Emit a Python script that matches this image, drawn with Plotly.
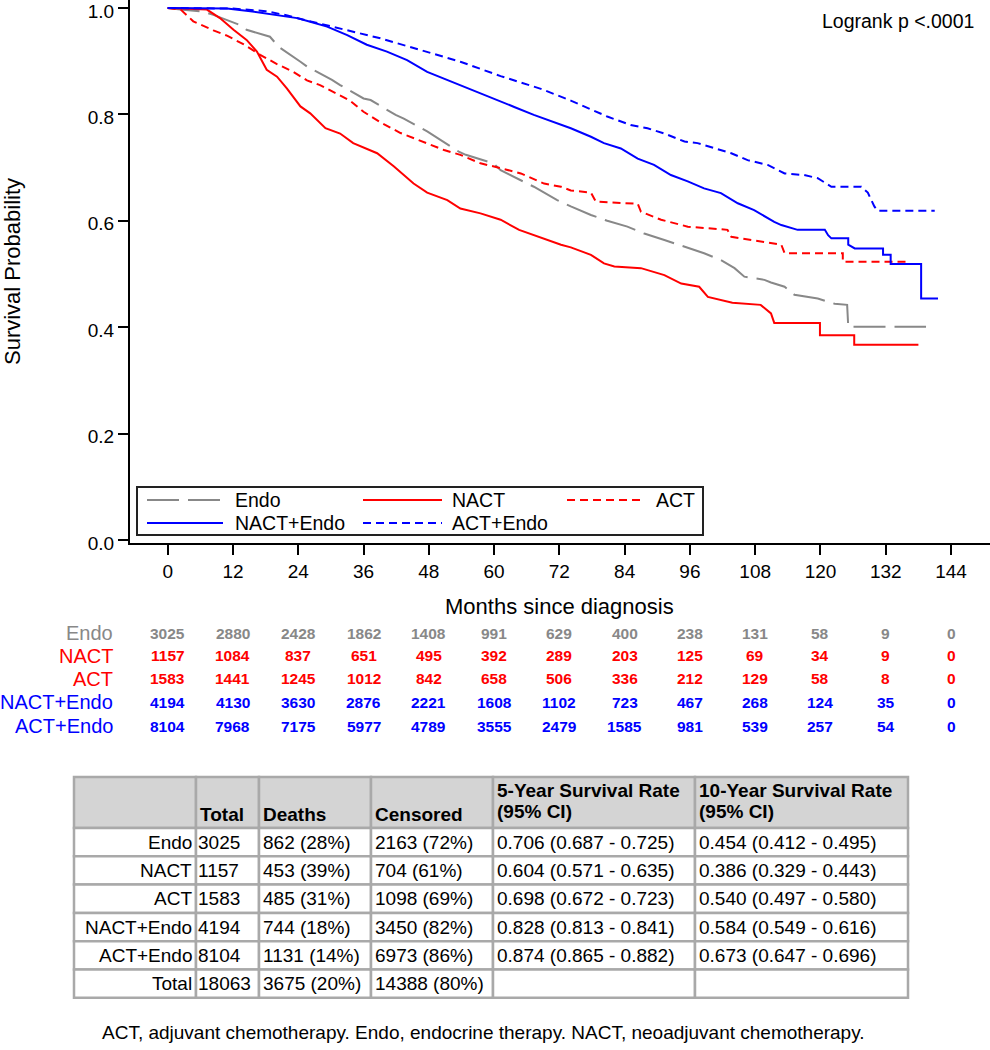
import plotly.graph_objects as go

FONT = "Liberation Sans, Arial, sans-serif"
W, H = 990, 1050

# ---------------- Kaplan-Meier curves (months, survival) ----------------
endo_t = [0, 2.3, 6.6, 8.4, 13.3, 14.5, 18.8, 20.4, 24.4, 25.6, 30.2, 31.7, 36.0, 37.3, 41.9, 43.4,
          47.7, 49.2, 53.5, 54.8, 59.9, 61.2, 65.5, 67.3, 71.6, 74.1, 77.8, 80.8, 84.5, 87.6, 91.3,
          95.0, 98.6, 101.7, 104.2, 106.0, 109.7, 110.9, 113.4, 115.2, 119.5, 122.6, 124.9, 125.1, 139.4]
endo_s = [1.0, 0.997, 0.993, 0.987, 0.968, 0.959, 0.946, 0.927, 0.899, 0.890, 0.865, 0.855, 0.830, 0.827,
          0.799, 0.792, 0.768, 0.758, 0.730, 0.724, 0.708, 0.695, 0.674, 0.664, 0.639, 0.627, 0.611,
          0.600, 0.589, 0.576, 0.564, 0.551, 0.539, 0.526, 0.511, 0.495, 0.489, 0.484, 0.476, 0.461,
          0.454, 0.444, 0.442, 0.401, 0.401]

nact_t = [0, 7.2, 9.6, 12.1, 14.5, 16.4, 18.2, 20.1, 21.9, 24.4, 26.2, 29.0, 31.7, 34.1, 38.5, 41.6,
          45.2, 47.7, 51.4, 53.8, 57.5, 61.2, 64.6, 68.0, 72.3, 74.1, 77.8, 80.2, 82.1, 87.0, 88.8,
          91.3, 94.4, 97.7, 99.3, 101.7, 103.8, 109.0, 110.9, 111.5, 119.9, 119.9, 126.2, 126.2, 138.0]
nact_s = [1.0, 0.997, 0.981, 0.959, 0.940, 0.918, 0.884, 0.871, 0.849, 0.815, 0.802, 0.774, 0.764,
          0.746, 0.727, 0.702, 0.670, 0.653, 0.639, 0.623, 0.614, 0.602, 0.583, 0.570, 0.555, 0.550,
          0.536, 0.520, 0.514, 0.511, 0.505, 0.498, 0.482, 0.476, 0.457, 0.451, 0.446, 0.442, 0.426,
          0.408, 0.408, 0.385, 0.385, 0.367, 0.367]

act_t = [0, 2.4, 4.7, 6.5, 8.4, 10.9, 13.9, 17.0, 20.0, 23.1, 25.6, 28.0, 30.5, 33.5, 36.0, 39.1,
         42.8, 47.7, 50.8, 53.8, 57.5, 61.2, 64.9, 69.2, 72.3, 74.1, 77.8, 78.7, 86.4, 87.0, 90.7,
         95.6, 102.9, 103.6, 112.8, 113.4, 124.1, 124.1, 135.8]
act_s = [1.0, 0.997, 0.975, 0.966, 0.958, 0.948, 0.932, 0.912, 0.895, 0.880, 0.864, 0.855, 0.842,
         0.826, 0.805, 0.785, 0.765, 0.746, 0.733, 0.724, 0.708, 0.699, 0.689, 0.670, 0.664, 0.657,
         0.653, 0.636, 0.632, 0.617, 0.602, 0.589, 0.583, 0.570, 0.555, 0.539, 0.539, 0.523, 0.523]

nacte_t = [0, 10.9, 15.2, 20.1, 23.8, 26.2, 29.3, 33.0, 36.6, 40.3, 44.0, 47.7, 51.4, 55.1, 60.0,
           63.7, 67.3, 71.0, 74.1, 77.8, 80.2, 83.3, 86.4, 89.4, 92.5, 95.6, 98.6, 101.7, 104.8,
           107.8, 111.5, 112.8, 115.8, 120.8, 121.4, 122.0, 125.1, 125.1, 126.3, 131.5, 131.5,
           132.9, 132.9, 138.5, 138.5, 141.6]
nacte_s = [1.0, 0.999, 0.994, 0.987, 0.981, 0.974, 0.965, 0.949, 0.931, 0.918, 0.902, 0.880, 0.865,
           0.850, 0.830, 0.814, 0.799, 0.786, 0.774, 0.758, 0.746, 0.736, 0.717, 0.705, 0.686, 0.674,
           0.661, 0.652, 0.633, 0.620, 0.598, 0.592, 0.583, 0.583, 0.573, 0.567, 0.567, 0.555, 0.548,
           0.548, 0.536, 0.536, 0.519, 0.519, 0.454, 0.454]

acte_t = [0, 12.0, 18.0, 22.0, 25.0, 31.7, 39.1, 46.5, 53.8, 61.2, 68.6, 74.1, 77.8, 80.8, 85.1,
          88.2, 91.3, 95.0, 97.4, 100.5, 103.6, 106.6, 110.3, 113.4, 117.0, 119.5, 122.0, 127.5,
          128.7, 129.9, 130.5, 141.0]
acte_s = [1.0, 0.999, 0.994, 0.986, 0.978, 0.962, 0.943, 0.921, 0.899, 0.872, 0.848, 0.826, 0.810,
          0.796, 0.780, 0.774, 0.764, 0.749, 0.746, 0.736, 0.727, 0.714, 0.705, 0.689, 0.686, 0.680,
          0.664, 0.664, 0.653, 0.627, 0.619, 0.619]

group_names = ["Endo", "NACT", "ACT", "NACT+Endo", "ACT+Endo"]

# ---------------- Number at risk ----------------
risk_times = [0, 12, 24, 36, 48, 60, 72, 84, 96, 108, 120, 132, 144]
risk_endo = [3025, 2880, 2428, 1862, 1408, 991, 629, 400, 238, 131, 58, 9, 0]
risk_nact = [1157, 1084, 837, 651, 495, 392, 289, 203, 125, 69, 34, 9, 0]
risk_act = [1583, 1441, 1245, 1012, 842, 658, 506, 336, 212, 129, 58, 8, 0]
risk_nacte = [4194, 4130, 3630, 2876, 2221, 1608, 1102, 723, 467, 268, 124, 35, 0]
risk_acte = [8104, 7968, 7175, 5977, 4789, 3555, 2479, 1585, 981, 539, 257, 54, 0]

# ---------------- Summary table ----------------
tbl_header = ["", "Total", "Deaths", "Censored", "5-Year Survival Rate", "10-Year Survival Rate"]
tbl_header_sub = ["", "", "", "", "(95% CI)", "(95% CI)"]
tbl_group = ["Endo", "NACT", "ACT", "NACT+Endo", "ACT+Endo", "Total"]
tbl_total = ["3025", "1157", "1583", "4194", "8104", "18063"]
tbl_deaths = ["862 (28%)", "453 (39%)", "485 (31%)", "744 (18%)", "1131 (14%)", "3675 (20%)"]
tbl_censored = ["2163 (72%)", "704 (61%)", "1098 (69%)", "3450 (82%)", "6973 (86%)", "14388 (80%)"]
tbl_5yr = ["0.706 (0.687 - 0.725)", "0.604 (0.571 - 0.635)", "0.698 (0.672 - 0.723)",
           "0.828 (0.813 - 0.841)", "0.874 (0.865 - 0.882)", ""]
tbl_10yr = ["0.454 (0.412 - 0.495)", "0.386 (0.329 - 0.443)", "0.540 (0.497 - 0.580)",
            "0.584 (0.549 - 0.616)", "0.673 (0.647 - 0.696)", ""]

footnote = "ACT, adjuvant chemotherapy. Endo, endocrine therapy. NACT, neoadjuvant chemotherapy."

# ---------------- styles / layout geometry (pixels) ----------------
GRAY, RED, BLUE = "#888888", "#ff0000", "#0000ff"
series_style = [
    (endo_t, endo_s, GRAY, "32px,9px"),
    (nact_t, nact_s, RED, "solid"),
    (act_t, act_s, RED, "8px,5px"),
    (nacte_t, nacte_s, BLUE, "solid"),
    (acte_t, acte_s, BLUE, "8px,5px"),
]
risk_rows = [risk_endo, risk_nact, risk_act, risk_nacte, risk_acte]
risk_y_px = [633.3, 655.9, 679.0, 702.3, 726.0]

# legend box and entries: (line x0, line x1, text x, row y)
legend_box = (137, 487, 703, 535)
legend_pos = [(147, 223, 233, 500), (363, 442, 450, 500), (567, 645, 654, 500),
              (147, 223, 233, 523), (363, 442, 450, 523)]

tbl_cols = [74, 196, 259, 371, 493, 695, 908]
tbl_rows = [777, 828, 856.3, 884.6, 912.9, 941.2, 969.5, 997.8]


def py(px):
    return 1 - px / H


def pxx(px):
    return px / W


fig = go.Figure()
for (t, s, col, dash), name in zip(series_style, group_names):
    fig.add_trace(go.Scatter(x=t, y=s, mode="lines", name=name, showlegend=False,
                             line=dict(color=col, width=2, dash=dash),
                             hoverinfo="x+y+name"))

shapes = []
ann = []

# ---- legend (drawn) ----
x0, y0, x1, y1 = legend_box
shapes.append(dict(type="rect", xref="paper", yref="paper", x0=pxx(x0), x1=pxx(x1),
                   y0=py(y1), y1=py(y0), line=dict(color="#222222", width=2),
                   fillcolor="white", layer="above"))
for (lx0, lx1, tx, ly), (t, s, col, dash), name in zip(legend_pos, series_style, group_names):
    shapes.append(dict(type="line", xref="paper", yref="paper", x0=pxx(lx0), x1=pxx(lx1),
                       y0=py(ly), y1=py(ly), line=dict(color=col, width=2, dash=dash),
                       layer="above"))
    ann.append(dict(text=name, x=pxx(tx), y=py(ly), xref="paper", yref="paper",
                    xanchor="left", yanchor="middle", showarrow=False,
                    font=dict(family=FONT, size=19.5, color="black")))

# ---- texts ----
ann.append(dict(text="Logrank p <.0001", x=pxx(976), y=py(21), xref="paper", yref="paper",
                xanchor="right", yanchor="middle", showarrow=False,
                font=dict(family=FONT, size=19.5, color="black")))
ann.append(dict(text="Months since diagnosis", x=pxx(559), y=py(606), xref="paper", yref="paper",
                xanchor="center", yanchor="middle", showarrow=False,
                font=dict(family=FONT, size=22, color="black")))
ann.append(dict(text="Survival Probability", x=pxx(13), y=py(272), xref="paper", yref="paper",
                xanchor="center", yanchor="middle", showarrow=False, textangle=-90,
                font=dict(family=FONT, size=22, color="black")))

# ---- number at risk ----
for name, row, (t, s, col, dash), ypx in zip(group_names, risk_rows, series_style, risk_y_px):
    ann.append(dict(text=name, x=pxx(115), y=py(ypx), xref="paper", yref="paper",
                    xanchor="right", yanchor="middle", showarrow=False,
                    font=dict(family=FONT, size=20, color=col)))
    for tm, n in zip(risk_times, row):
        ann.append(dict(text=f"<b>{n}</b>", x=tm, y=py(ypx), xref="x", yref="paper",
                        xanchor="center", yanchor="middle", showarrow=False,
                        font=dict(family=FONT, size=15.5, color=col)))

# ---- summary table ----
LINEC = "#a9a9a9"
for ci in range(6):
    for ri in range(7):
        shapes.append(dict(type="rect", xref="paper", yref="paper",
                           x0=pxx(tbl_cols[ci]), x1=pxx(tbl_cols[ci + 1]),
                           y0=py(tbl_rows[ri + 1]), y1=py(tbl_rows[ri]),
                           line=dict(color=LINEC, width=2.5),
                           fillcolor="#d4d4d4" if ri == 0 else "white", layer="below"))
tfont = dict(family=FONT, size=19, color="black")
for ci, (h1, h2) in enumerate(zip(tbl_header, tbl_header_sub)):
    if not h1:
        continue
    if h2:
        ann.append(dict(text=f"<b>{h1}</b>", x=pxx(tbl_cols[ci] + 2), y=py(790.5), xref="paper",
                        yref="paper", xanchor="left", yanchor="middle", showarrow=False, font=tfont))
        ann.append(dict(text=f"<b>{h2}</b>", x=pxx(tbl_cols[ci] + 2), y=py(811), xref="paper",
                        yref="paper", xanchor="left", yanchor="middle", showarrow=False, font=tfont))
    else:
        ann.append(dict(text=f"<b>{h1}</b>", x=pxx(tbl_cols[ci] + 2), y=py(814), xref="paper",
                        yref="paper", xanchor="left", yanchor="middle", showarrow=False, font=tfont))
table_cols = [tbl_group, tbl_total, tbl_deaths, tbl_censored, tbl_5yr, tbl_10yr]
for ci, colvals in enumerate(table_cols):
    for ri, val in enumerate(colvals):
        if not val:
            continue
        yc = (tbl_rows[ri + 1] + tbl_rows[ri + 2]) / 2
        if ci == 0:
            ann.append(dict(text=val, x=pxx(tbl_cols[1] - 2), y=py(yc), xref="paper", yref="paper",
                            xanchor="right", yanchor="middle", showarrow=False, font=tfont))
        else:
            ann.append(dict(text=val, x=pxx(tbl_cols[ci] + (0 if ci == 1 else 2)), y=py(yc),
                            xref="paper", yref="paper", xanchor="left", yanchor="middle",
                            showarrow=False, font=tfont))

ann.append(dict(text=footnote, x=pxx(483), y=py(1032), xref="paper", yref="paper",
                xanchor="center", yanchor="middle", showarrow=False,
                font=dict(family=FONT, size=19, color="black")))

axis_common = dict(showgrid=False, zeroline=False, showline=True, linecolor="black", linewidth=2,
                   ticks="outside", ticklen=10, tickwidth=1.5, tickcolor="black",
                   automargin=False, ticklabeloverflow="allow",
                   tickfont=dict(family=FONT, size=19, color="black"))

fig.update_layout(
    width=W, height=H, margin=dict(l=0, r=0, t=0, b=0, autoexpand=False),
    paper_bgcolor="white", plot_bgcolor="white",
    font=dict(family=FONT, size=19, color="black"),
    xaxis=dict(domain=[130 / W, 1], range=[-6.93, 151.16], tickvals=risk_times, **axis_common),
    yaxis=dict(domain=[py(543), 1], range=[-0.00564, 1.01504],
               tickvals=[0, 0.2, 0.4, 0.6, 0.8, 1.0], tickformat=".1f", ticklabelshift=3,
               **axis_common),
    showlegend=False,
    shapes=shapes,
    annotations=ann,
)

fig.write_html("out.html", config={"displayModeBar": False},
               post_script="document.body.style.margin='0px';document.body.style.overflow='hidden';")
